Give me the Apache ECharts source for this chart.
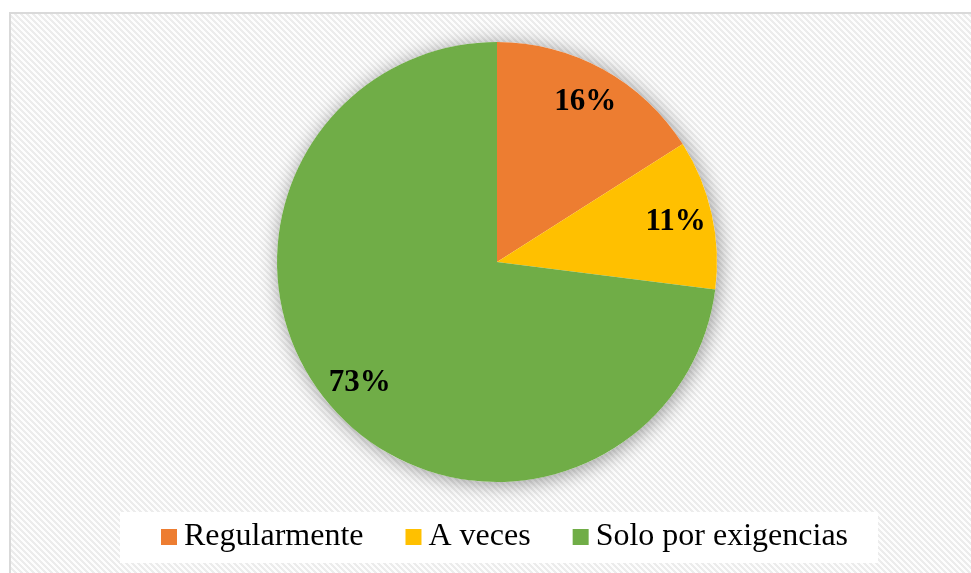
<!DOCTYPE html>
<html>
<head>
<meta charset="utf-8">
<script src="https://cdn.jsdelivr.net/npm/echarts@6/dist/echarts.min.js"></script>
<style>
  html, body { margin: 0; padding: 0; background: #fff; }
  #chart-pie { width: 971px; height: 573px; }
</style>
</head>
<body>
<div id="chart-pie"></div>
<script>
const categories = ['Regularmente', 'A veces', 'Solo por exigencias'];
const percentValues = [16, 11, 73];
const sliceColors = ['#ED7D31', '#FFC000', '#70AD47'];

// light diagonal hatch used as the chart area fill
function makeHatch() {
  const c = document.createElement('canvas');
  c.width = 6; c.height = 6;
  const ctx = c.getContext('2d');
  ctx.fillStyle = '#fdfdfd';
  ctx.fillRect(0, 0, 6, 6);
  ctx.fillStyle = '#ececec';
  for (let y = 0; y < 6; y++) {
    for (let x = 0; x < 6; x++) {
      if (((x - y) % 6 + 6) % 6 < 3) ctx.fillRect(x, y, 1, 1);
    }
  }
  return c;
}

const pieData = categories.map((name, i) => ({
  name: name,
  value: percentValues[i],
  itemStyle: { color: sliceColors[i] }
}));
const total = percentValues.reduce((a, b) => a + b, 0);

const chart = echarts.init(document.getElementById('chart-pie'));
chart.setOption({
  animation: false,
  graphic: [{
    type: 'rect',
    z: -10,
    shape: { x: 10, y: 13, width: 980, height: 600 },
    style: { fill: { image: makeHatch(), repeat: 'repeat' }, stroke: '#d9d9d9', lineWidth: 2 }
  }],
  legend: {
    data: categories,
    left: 120,
    top: 512,
    padding: [9, 30, 10, 41],
    backgroundColor: '#ffffff',
    itemWidth: 16,
    itemHeight: 16,
    itemGap: 42,
    icon: 'rect',
    textStyle: {
      fontFamily: 'Liberation Serif',
      fontSize: 32,
      color: '#000',
      padding: [0, 0, 0, 2]
    }
  },
  series: [
    {
      // soft shadow disc behind the pie
      type: 'pie',
      silent: true,
      center: [497, 262],
      radius: [0, 220],
      z: 1,
      label: { show: false },
      labelLine: { show: false },
      data: [{ name: '', value: total }],
      itemStyle: {
        color: '#ffffff',
        shadowBlur: 20,
        shadowColor: 'rgba(0,0,0,0.4)',
        shadowOffsetX: 2,
        shadowOffsetY: 2
      }
    },
    {
      type: 'pie',
      center: [497, 262],
      radius: [0, 220],
      startAngle: 90,
      clockwise: true,
      z: 2,
      label: { show: false },
      labelLine: { show: false },
      data: pieData
    },
    {
      // transparent ring that carries the percentage labels
      type: 'pie',
      silent: true,
      center: [497, 262],
      radius: [140, 220],
      startAngle: 90,
      clockwise: true,
      z: 3,
      itemStyle: { color: 'transparent' },
      label: {
        show: true,
        position: 'inside',
        formatter: '{c}%',
        fontFamily: 'Liberation Serif',
        fontWeight: 'bold',
        fontSize: 31,
        color: '#000'
      },
      labelLine: { show: false },
      data: categories.map((name, i) => ({ name: name, value: percentValues[i] }))
    }
  ]
});
</script>
</body>
</html>
